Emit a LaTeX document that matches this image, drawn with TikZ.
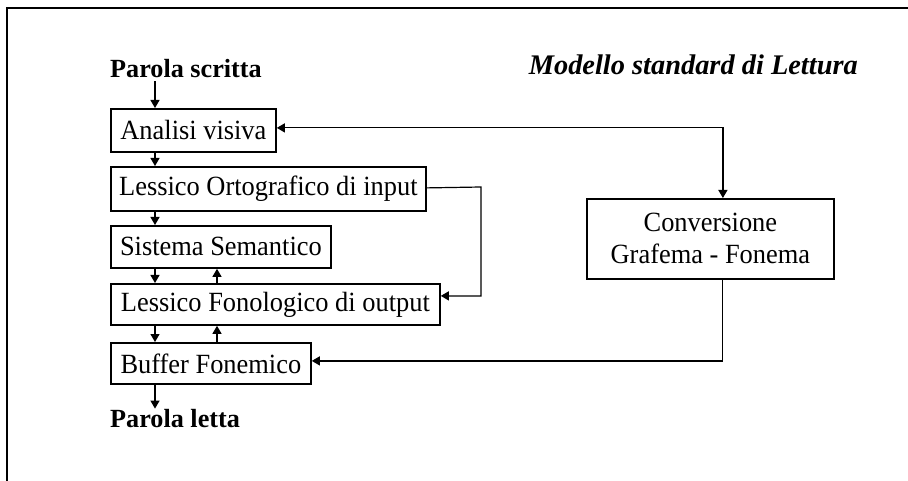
\documentclass[tikz,border=0pt]{standalone}
\usepackage{fontspec}
\setmainfont{Liberation Serif}
\newfontfamily\boxfont{Liberation Serif}[FakeStretch=0.95]
\usetikzlibrary{arrows.meta}
\tikzset{
  box/.style={draw, line width=1.8pt, inner sep=0pt, anchor=north west, align=center,
    font=\boxfont\fontsize{27.8}{32}\selectfont},
  lab/.style={inner xsep=0pt, inner ysep=3pt, anchor=base west,
    font=\bfseries\fontsize{26.2}{30}\selectfont},
  arr/.style={line width=1.2pt, -{Triangle[length=8pt,width=9pt]}},
  arrboth/.style={line width=1.2pt, {Triangle[length=8pt,width=9pt]}-{Triangle[length=8pt,width=9pt]}},
  frame/.style={line width=2pt}
}
\begin{document}
\begin{tikzpicture}[x=1pt,y=-1pt]
\useasboundingbox (0,0) rectangle (908,481);
\draw[frame] (6.5,481) -- (6.5,8.5) -- (908,8.5);

\node[lab] (ps) at (110,78) {Parola scritta};
\node[lab, anchor=base east, inner ysep=0pt, font=\bfseries\itshape\fontsize{28.4}{32}\selectfont] (title) at (858,75) {Modello standard di Lettura};

\node[box, minimum width=165pt, minimum height=43pt] (av) at (110,108) {Analisi visiva};
\node[box, minimum width=315pt, minimum height=44pt] (loi) at (110,166) {Lessico Ortografico di input};
\node[box, minimum width=220pt, minimum height=42pt] (ss) at (110,225) {Sistema Semantico};
\node[box, minimum width=329pt, minimum height=41pt] (lfo) at (110,283) {Lessico Fonologico di output};
\node[box, minimum width=200pt, minimum height=41pt] (bf) at (110,342) {Buffer Fonemico};
\node[box, minimum width=247pt, minimum height=80pt] (conv) at (586,198) {Conversione\\Grafema - Fonema};

\node[lab, inner ysep=0pt] (pl) at (110,427) {Parola letta};

\draw[arr] ([xshift=45pt]ps.south west) -- ([xshift=45pt]av.north west);
\draw[arr] ([xshift=45pt]av.south west) -- ([xshift=45pt]loi.north west);
\draw[arr] ([xshift=45pt]loi.south west) -- ([xshift=45pt]ss.north west);
\draw[arr] ([xshift=45pt]ss.south west) -- ([xshift=45pt]lfo.north west);
\draw[arr] ([xshift=45pt]lfo.south west) -- ([xshift=45pt]bf.north west);
\draw[arr] ([xshift=45pt]bf.south west) -- ([xshift=45pt]pl.north west);
\draw[arr] ([xshift=107pt]lfo.north west) -- ([xshift=107pt]ss.south west);
\draw[arr] ([xshift=107pt]bf.north west) -- ([xshift=107pt]lfo.south west);

\draw[arrboth] ([yshift=2.5pt]av.east) -| ([xshift=12.5pt]conv.north);
\coordinate (k1) at (481,187);
\draw[arr] ([yshift=1pt]loi.east) -- (k1) |- ([yshift=8.5pt]lfo.east);
\draw[arr] ([xshift=12pt]conv.south) |- ([yshift=2.5pt]bf.east);
\end{tikzpicture}
\end{document}
